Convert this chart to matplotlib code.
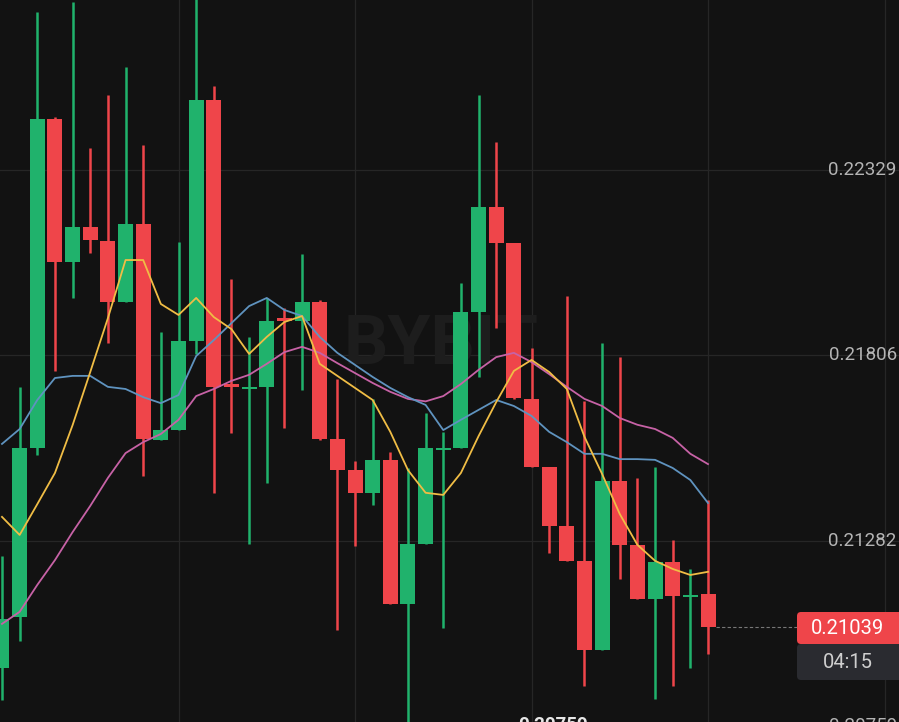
import matplotlib.pyplot as plt
from matplotlib.patches import FancyBboxPatch
from matplotlib.transforms import IdentityTransform, blended_transform_factory
import numpy as np

# --- candle data ---
opens = [0.20924, 0.21066, 0.21545, 0.22474, 0.22070, 0.22169, 0.22129, 0.21957, 0.22178, 0.21567,
         0.21595, 0.21846, 0.22527, 0.21724, 0.21710, 0.21717, 0.21910, 0.21902, 0.21957, 0.21570,
         0.21483, 0.21418, 0.21511, 0.21105, 0.21274, 0.21539, 0.21545, 0.21928, 0.22226, 0.22122,
         0.21684, 0.21490, 0.21325, 0.21226, 0.20975, 0.21451, 0.21270, 0.21118, 0.21222, 0.21123,
         0.21131]
highs = [0.21240, 0.21717, 0.22776, 0.22479, 0.22802, 0.22392, 0.22541, 0.22621, 0.22401, 0.21873,
         0.22126, 0.22837, 0.22565, 0.22021, 0.21859, 0.21967, 0.21941, 0.22092, 0.21962, 0.21740,
         0.21509, 0.21682, 0.21533, 0.21488, 0.21643, 0.21590, 0.22009, 0.22541, 0.22407, 0.22122,
         0.21828, 0.21490, 0.21973, 0.21678, 0.21840, 0.21801, 0.21461, 0.21490, 0.21286, 0.21202,
         0.21399]
lows = [0.20833, 0.20999, 0.21526, 0.21762, 0.21969, 0.22096, 0.21840, 0.21957, 0.21464, 0.21567,
        0.21595, 0.21811, 0.21418, 0.21588, 0.21274, 0.21446, 0.21601, 0.21708, 0.21567, 0.21031,
        0.21267, 0.21384, 0.21104, 0.20720, 0.21274, 0.21037, 0.21545, 0.21744, 0.21882, 0.21684,
        0.21490, 0.21247, 0.21226, 0.20874, 0.20975, 0.21174, 0.21118, 0.20837, 0.20872, 0.20924,
        0.20962]
closes = [0.21062, 0.21545, 0.22474, 0.22070, 0.22169, 0.22132, 0.21957, 0.22178, 0.21569, 0.21595,
          0.21846, 0.22527, 0.21717, 0.21718, 0.21714, 0.21902, 0.21904, 0.21957, 0.21571, 0.21483,
          0.21418, 0.21511, 0.21105, 0.21274, 0.21545, 0.21542, 0.21928, 0.22226, 0.22122, 0.21686,
          0.21490, 0.21325, 0.21226, 0.20975, 0.21451, 0.21270, 0.21118, 0.21222, 0.21127, 0.21125,
          0.21039]

# moving average lines
ma_yellow = [0.21350, 0.21299, 0.21386, 0.21474, 0.21609, 0.21759, 0.21911, 0.22075, 0.22075, 0.21951,
             0.21920, 0.21968, 0.21914, 0.21880, 0.21810, 0.21858, 0.21900, 0.21917, 0.21782, 0.21748,
             0.21714, 0.21680, 0.21590, 0.21482, 0.21418, 0.21412, 0.21474, 0.21578, 0.21674, 0.21762,
             0.21793, 0.21759, 0.21711, 0.21576, 0.21471, 0.21358, 0.21271, 0.21226, 0.21203, 0.21186,
             0.21195]
ma_blue = [0.21556, 0.21598, 0.21680, 0.21742, 0.21748, 0.21748, 0.21717, 0.21711, 0.21688, 0.21671,
           0.21694, 0.21804, 0.21849, 0.21897, 0.21945, 0.21968, 0.21934, 0.21917, 0.21858, 0.21813,
           0.21779, 0.21745, 0.21714, 0.21688, 0.21666, 0.21595, 0.21624, 0.21652, 0.21680, 0.21663,
           0.21635, 0.21590, 0.21561, 0.21528, 0.21528, 0.21513, 0.21513, 0.21511, 0.21488, 0.21454,
           0.21389]
ma_pink = [0.21048, 0.21082, 0.21158, 0.21228, 0.21307, 0.21381, 0.21460, 0.21530, 0.21561, 0.21584,
           0.21624, 0.21691, 0.21711, 0.21734, 0.21751, 0.21782, 0.21815, 0.21830, 0.21813, 0.21784,
           0.21756, 0.21728, 0.21703, 0.21683, 0.21676, 0.21691, 0.21725, 0.21765, 0.21801, 0.21813,
           0.21787, 0.21753, 0.21717, 0.21683, 0.21663, 0.21629, 0.21610, 0.21598, 0.21573, 0.21528,
           0.21499]

tick_prices = [0.22329, 0.21806, 0.21282, 0.20759]
last_price = 0.21039
countdown = '04:15'
low_marker = '0.20759'

BG = '#121212'
UP = '#20b26c'
DOWN = '#ef454a'
GRID = '#262626'

plt.rcParams['font.family'] = ['Roboto', 'DejaVu Sans']

W, H = 899, 722
fig = plt.figure(figsize=(W / 100, H / 100), dpi=100, facecolor=BG)
ax = fig.add_axes([0, 0, 1, 1], facecolor=BG)
ax.set_xlim(-0.113, 50.82)
ax.set_ylim(0.20771, 0.22809)
ax.axis('off')

x = np.arange(len(opens))

# grid
for p in tick_prices:
    ax.axhline(p, color=GRID, lw=0.9, zorder=0)
for gx in [10, 20, 30, 40, 50]:
    ax.axvline(gx, color=GRID, lw=0.9, zorder=0)

# watermark
ax.text(0.4905, 0.522, 'BYBIT', transform=ax.transAxes, ha='center', va='center',
        fontsize=50, fontweight='bold', color='#1d1d1d', zorder=0.5)

# candles
for i in x:
    o, h, l, c = opens[i], highs[i], lows[i], closes[i]
    col = UP if c >= o else DOWN
    ax.vlines(i, l, h, color=col, lw=1.8, zorder=2)
    bottom = min(o, c)
    height = max(abs(c - o), 0.00006)
    ax.bar(i, height, bottom=bottom, width=0.85, color=col, zorder=3, linewidth=0)

# moving averages
ax.plot(x, ma_pink, color='#c762a6', lw=1.3, zorder=4)
ax.plot(x, ma_blue, color='#5f93bf', lw=1.3, zorder=4)
ax.plot(x, ma_yellow, color='#f0bd45', lw=1.3, zorder=5)

# price labels on the right (the lowest one is cut by the bottom edge, as in the app)
trans = blended_transform_factory(ax.transAxes, ax.transData)
for p in tick_prices:
    ax.text(0.9975, p, f'{p:.5f}', transform=trans, ha='right', va='center',
            fontsize=13.5, color='#b4b4b4', zorder=6)

# last price dashed line
ax.plot([40.45, 45.05], [last_price, last_price], color='#777777', lw=0.8,
        ls=(0, (3, 2)), zorder=4)

# last price box + countdown box (pixel coordinates)
ident = IdentityTransform()
box1 = FancyBboxPatch((797, H - 644), 120, 32, boxstyle='round,pad=0,rounding_size=4',
                      transform=ident, facecolor=DOWN, edgecolor='none', zorder=7)
box2 = FancyBboxPatch((797, H - 680), 120, 36, boxstyle='round,pad=0,rounding_size=4',
                      transform=ident, facecolor='#2a2b30', edgecolor='none', zorder=6)
fig.add_artist(box2)
fig.add_artist(box1)
fig.text(847 / W, 1 - 628 / H, f'{last_price:.5f}', ha='center', va='center',
         fontsize=14.5, color='white', zorder=8)
fig.text(848 / W, 1 - 662 / H, countdown, ha='center', va='center',
         fontsize=14.5, color='#cfcfcf', zorder=8)

# lowest price marker (cut off at bottom)
fig.text(518 / W, 1 - 716 / H, low_marker, ha='left', va='top',
         fontsize=13.5, color='#e6e6e6', fontweight='bold', zorder=8)

fig.savefig('out.png', dpi=100, facecolor=BG)
